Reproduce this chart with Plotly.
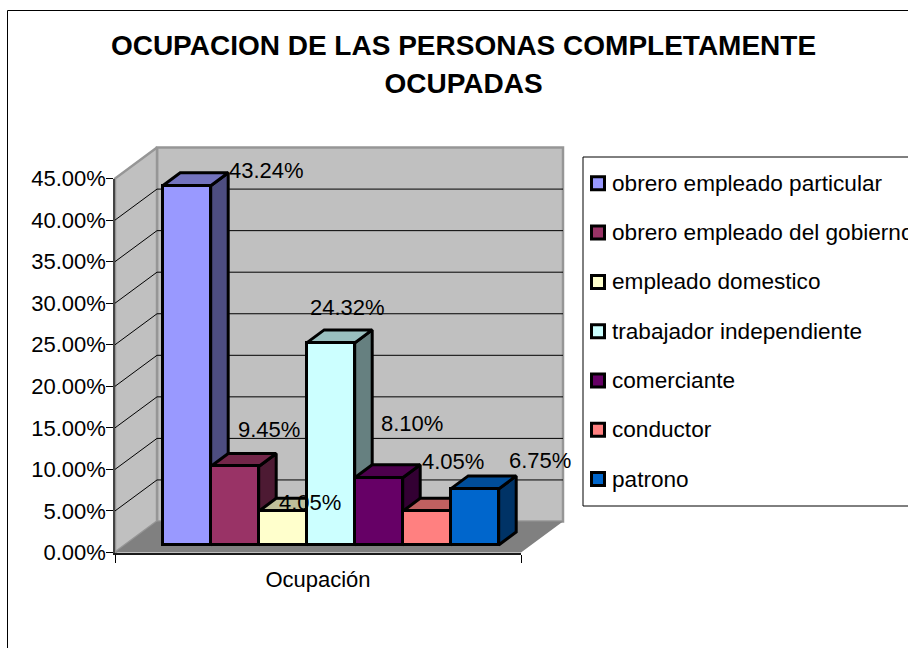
import plotly.graph_objects as go

# ---- data ----
categories = ["obrero empleado particular", "obrero empleado del gobierno", "empleado domestico",
              "trabajador independiente", "comerciante", "conductor", "patrono"]
values = [43.24, 9.45, 4.05, 24.32, 8.10, 4.05, 6.75]
y_ticks = [0, 5, 10, 15, 20, 25, 30, 35, 40, 45]
axis_category = "Ocupación"
title_lines = ["OCUPACION DE LAS PERSONAS COMPLETAMENTE", "OCUPADAS"]

# ---- styles ----
front = ["#9999FF", "#993366", "#FFFFCC", "#CCFFFF", "#660066", "#FF8080", "#0066CC"]
top = ["#7373BF", "#732649", "#BFBF99", "#99BFBF", "#4D004D", "#BF6060", "#004D99"]
side = ["#4D4D80", "#4D1A33", "#808066", "#668080", "#330033", "#804040", "#003366"]
label_pos = [(266, 170), (269, 430), (310, 502), (347, 307), (412, 423), (453, 461), (540, 460)]

W, H = 908, 648
BAR0_X, BAR_W, BASE_Y = 186.7, 48.0, 545.0   # pixel anchor of the bar plane
PCT = 8.31                                   # pixels per percentage point
FONT = "Liberation Sans, Arial, sans-serif"

def wx(px):
    return (px - BAR0_X) / BAR_W

def dwx(px):
    return px / BAR_W

def wy(py):
    return (BASE_Y - py) / PCT

def dwy(px):
    return px / PCT

world_x = [wx(0), wx(W)]
world_y = [wy(H), wy(0)]

fig = go.Figure()

# --- room: floor, side wall, back wall (pixel geometry converted to world units)
FX0, FX1, FY0 = 115, 521, 552.5
DX, DY = 42, 31
top_off = 45 * PCT

def poly(xs, ys, fill, line="rgba(0,0,0,0)", lw=0, axes=("x", "y")):
    fig.add_trace(go.Scatter(x=xs, y=ys, mode="lines", fill="toself", fillcolor=fill,
                             line=dict(color=line, width=lw), hoverinfo="skip", showlegend=False,
                             xaxis=axes[0], yaxis=axes[1]))

wall = "#C0C0C0"
edge = "#969696"
# back wall
poly([wx(FX0 + DX), wx(FX1 + DX), wx(FX1 + DX), wx(FX0 + DX), wx(FX0 + DX)],
     [wy(FY0 - DY), wy(FY0 - DY), wy(FY0 - DY - top_off), wy(FY0 - DY - top_off), wy(FY0 - DY)],
     wall, edge, 2.5)
# side wall
poly([wx(FX0), wx(FX0 + DX), wx(FX0 + DX), wx(FX0), wx(FX0)],
     [wy(FY0), wy(FY0 - DY), wy(FY0 - DY - top_off), wy(FY0 - top_off), wy(FY0)],
     wall, edge, 2.5)
# floor
poly([wx(FX0), wx(FX1), wx(FX1 + DX), wx(FX0 + DX), wx(FX0)],
     [wy(FY0), wy(FY0), wy(FY0 - DY), wy(FY0 - DY), wy(FY0)],
     "#808080")

# grid lines on both walls (none at the axis ends)
gx, gy = [], []
for t in y_ticks[1:-1]:
    p = t * PCT
    gx += [wx(FX0), wx(FX0 + DX), wx(FX1 + DX), None]
    gy += [wy(FY0 - p), wy(FY0 - DY - p), wy(FY0 - DY - p), None]
fig.add_trace(go.Scatter(x=gx, y=gy, mode="lines", line=dict(color="#000000", width=1),
                         hoverinfo="skip", showlegend=False))

# --- depth faces of the bars, from the values
BD_X, BD_Y = dwx(17.5), dwy(13)
for i, v in enumerate(values):
    l, r = i - 0.5, i + 0.5
    poly([r, r + BD_X, r + BD_X, r, r], [0, BD_Y, v + BD_Y, v, 0], side[i], "#000000", 3)
    poly([l, l + BD_X, r + BD_X, r, l], [v, v + BD_Y, v + BD_Y, v, v], top[i], "#000000", 3)

# --- front faces: real bars on an overlaying axis pair
for i, (c, v) in enumerate(zip(categories, values)):
    fig.add_trace(go.Bar(x=[i], y=[v], width=1, name=c, showlegend=False,
                         marker=dict(color=front[i], line=dict(color="#000000", width=3)),
                         xaxis="x2", yaxis="y2"))

# --- front axes (tick labels and category)
fig.add_trace(go.Scatter(x=[0.5], y=[0], mode="markers", marker=dict(opacity=0), hoverinfo="skip",
                         showlegend=False, xaxis="x3", yaxis="y3"))

annotations = []
for v, (px, py) in zip(values, label_pos):
    annotations.append(dict(x=px / W, y=1 - py / H, xref="paper", yref="paper", showarrow=False,
                            text=f"{v:.2f}%", font=dict(family=FONT, size=22, color="#000000"),
                            xanchor="center", yanchor="middle"))

# --- legend box, drawn to match the tight swatch/text spacing of the reference
LEG_X0, LEG_Y0, LEG_Y1 = 583, 157, 506
ROW0, ROW_STEP = 183.3, 49.3
shapes = [dict(type="rect", xref="paper", yref="paper", x0=LEG_X0 / W, x1=1.02, y0=1 - LEG_Y1 / H, y1=1 - LEG_Y0 / H,
               line=dict(color="#000000", width=1), fillcolor="#FFFFFF", layer="above")]
for i, c in enumerate(categories):
    cy = ROW0 + i * ROW_STEP
    shapes.append(dict(type="rect", xref="paper", yref="paper", x0=591.5 / W, x1=604.5 / W,
                       y0=1 - (cy + 6.5) / H, y1=1 - (cy - 6.5) / H,
                       line=dict(color="#000000", width=3), fillcolor=front[i], layer="above"))
    annotations.append(dict(x=609.5 / W, y=1 - cy / H, xref="paper", yref="paper", showarrow=False, text=c,
                            font=dict(family=FONT, size=22.6, color="#000000"), xanchor="left", yanchor="middle"))

# outer chart frame
shapes.append(dict(type="rect", xref="paper", yref="paper", x0=7.5 / W, x1=1.02, y0=-0.02, y1=1 - 10.5 / H,
                   line=dict(color="#000000", width=1), fillcolor="rgba(0,0,0,0)", layer="above"))

title_text = "<br>".join(f'<span style="font-size:28px">{t}</span>' for t in title_lines)

fig.update_layout(
    width=W, height=H, autosize=False, margin=dict(l=0, r=0, t=0, b=0, autoexpand=False),
    paper_bgcolor="#FFFFFF", plot_bgcolor="rgba(0,0,0,0)",
    barmode="overlay", bargap=0, showlegend=False,
    font=dict(family=FONT, size=22, color="#000000"),
    title=dict(text=title_text, x=463.5 / W, xanchor="center", y=1 - 55 / H, yanchor="middle",
               font=dict(family=FONT, size=29.2, color="#000000", weight="bold")),
    xaxis=dict(domain=[0, 1], range=world_x, visible=False),
    yaxis=dict(domain=[0, 1], range=world_y, visible=False),
    xaxis2=dict(overlaying="x", range=world_x, visible=False),
    yaxis2=dict(overlaying="y", range=world_y, visible=False),
    xaxis3=dict(domain=[FX0 / W, FX1 / W], range=[0, 1], anchor="y3", tickvals=[0, 1], ticktext=["", ""],
                ticks="outside", ticklen=8, tickcolor="#000000", showgrid=False, zeroline=False,
                showline=True, linecolor="#1a1a1a", linewidth=2,
                title=dict(text=axis_category, standoff=6, font=dict(family=FONT, size=22))),
    yaxis3=dict(domain=[1 - FY0 / H, 1 - (FY0 - top_off) / H], range=[0, 45], anchor="x3", tickvals=y_ticks,
                ticktext=[f"{t:.2f}%" for t in y_ticks], ticks="outside", ticklen=7, tickcolor="#000000",
                showgrid=False, zeroline=False, showline=True, linecolor="#444444", linewidth=1.5,
                tickfont=dict(family=FONT, size=22), ticklabelstandoff=-4),
    annotations=annotations,
    shapes=shapes,
)

fig.write_html("out.html", config={"displayModeBar": False},
               post_script="document.body.style.margin='0';document.body.style.overflow='hidden';")
